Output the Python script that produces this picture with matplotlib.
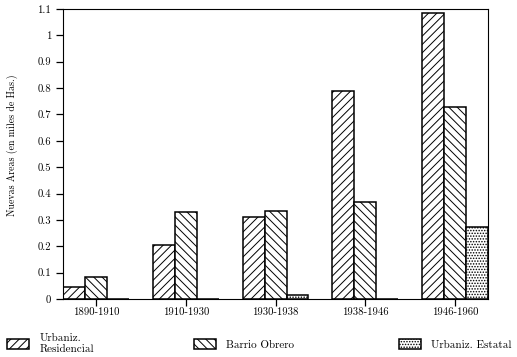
import numpy as np
import matplotlib
matplotlib.use("Agg")
import matplotlib.pyplot as plt
from matplotlib.ticker import FuncFormatter

plt.rcParams['font.family'] = ['cmr10', 'DejaVu Serif']
plt.rcParams['hatch.linewidth'] = 0.7

periodos = ['1890-1910', '1910-1930', '1930-1938', '1938-1946', '1946-1960']
residencial = [0.046, 0.205, 0.31, 0.79, 1.085]
obrero = [0.082, 0.33, 0.335, 0.366, 0.73]
estatal = [0.0, 0.0, 0.014, 0.0, 0.273]

x = np.arange(len(periodos))
w = 0.245

fig = plt.figure(figsize=(5.17, 3.57), dpi=100)
ax = fig.add_axes([0.1219, 0.1625, 0.822, 0.8123])

b1 = ax.bar(x - w, residencial, w, color='white', edgecolor='black', hatch='////',
            linewidth=1.1, label='Urbaniz.\nResidencial')
b2 = ax.bar(x, obrero, w, color='white', edgecolor='black', hatch='\\\\\\\\',
            linewidth=1.1, label='Barrio Obrero')
b3 = ax.bar(x + w, estatal, w, color='white', edgecolor='black', hatch='......',
            linewidth=1.1, label='Urbaniz. Estatal')

ax.set_xlim(-1.5 * w, 4 + 1.5 * w)
ax.set_ylim(0, 1.1)
ax.set_yticks(np.arange(0, 1.11, 0.1))
ax.yaxis.set_major_formatter(FuncFormatter(lambda v, p: '%g' % round(v, 1)))
ax.set_xticks(x)
ax.set_xticklabels(periodos)
ax.tick_params(direction='out', length=5, width=0.9, labelsize=7.7)
ax.tick_params(axis='x', pad=1)
ax.set_ylabel('Nuevas Areas (en miles de Has.)', fontsize=7.1)
ax.yaxis.set_label_coords(-0.107, 0.53)

# three legend entries spread across the bottom
for h, xpos in [(b1, 0.0135), (b2, 0.375), (b3, 0.772)]:
    fig.legend(handles=[h], loc='center left', bbox_to_anchor=(xpos, 0.036),
               frameon=False, fontsize=8, handlelength=2.0, handleheight=1.0,
               handletextpad=0.9, borderpad=0, borderaxespad=0)

fig.savefig('out.png', dpi=100)
